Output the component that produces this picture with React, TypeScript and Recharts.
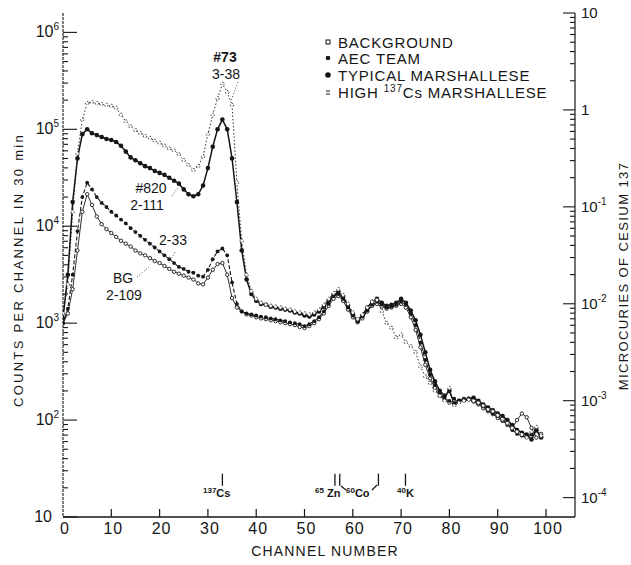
import React from 'react';
import { LineChart, Line, XAxis, YAxis, ReferenceLine } from 'recharts';

const INK = '#161616';
const FONT = '"Liberation Sans", Arial, sans-serif';

// channel numbers 0..99
const channels = Array.from({ length: 100 }, (_, i) => i);

// counts per channel in 30 min
const highCs = [
  1260, 2510, 14100, 56200, 126000, 186000, 191000, 186000, 182000, 178000,
  174000, 166000, 141000, 120000, 107000, 97700, 91200, 85100, 81300, 75900,
  72400, 67600, 63100, 60300, 55000, 47900, 42700, 38000, 41700, 52500,
  89100, 141000, 209000, 295000, 240000, 178000, 28200, 7080, 3160, 2140,
  1780, 1620, 1550, 1510, 1480, 1450, 1410, 1380, 1320, 1290,
  1260, 1230, 1290, 1380, 1550, 1780, 2040, 2240, 1950, 1580,
  1290, 1100, 1230, 1450, 1660, 1740, 1320, 1000, 891, 708,
  759, 631, 575, 501, 355, 282, 240, 200, 178, 158,
  214, 141, 151, 158, 162, 158, 151, 141, 129, 123,
  112, 102, 93, 83, 76, 71, 66, 76, 85, 69,
];

const typical = [
  1120, 3160, 17800, 50100, 89100, 100000, 91200, 87100, 83200, 79400,
  77600, 74100, 67600, 58900, 51300, 47900, 44700, 41700, 39800, 37200,
  35500, 33900, 31600, 29500, 27500, 24000, 21400, 20400, 21400, 26300,
  39800, 66100, 100000, 126000, 100000, 50100, 17800, 5620, 2820, 2000,
  1700, 1580, 1550, 1480, 1450, 1410, 1380, 1350, 1290, 1260,
  1200, 1170, 1230, 1320, 1480, 1700, 1950, 2090, 1860, 1510,
  1230, 1050, 1200, 1450, 1660, 1780, 1620, 1510, 1550, 1620,
  1780, 1620, 1350, 1070, 759, 501, 331, 251, 200, 178,
  200, 148, 158, 162, 166, 170, 158, 145, 135, 126,
  117, 110, 100, 89, 79, 74, 71, 63, 79, 66,
];

const aecTeam = [
  1000, 1410, 3160, 8910, 20000, 28200, 24000, 20000, 17400, 15800,
  14100, 12900, 11700, 10700, 9550, 8710, 7940, 7240, 6610, 6030,
  5500, 5010, 4570, 4170, 3800, 3630, 3390, 3310, 3090, 3020,
  3550, 4570, 5500, 5890, 5010, 2630, 1580, 1320, 1260, 1230,
  1200, 1170, 1150, 1120, 1100, 1070, 1050, 1020, 1000, 977,
  933, 977, 1050, 1150, 1320, 1580, 1910, 2000, 1780, 1450,
  1200, 1050, 1170, 1350, 1550, 1660, 1550, 1450, 1480, 1550,
  1660, 1550, 1260, 955, 631, 417, 295, 229, 186, 166,
  158, 166, 155, 158, 166, 158, 148, 138, 126, 117,
  110, 100, 91, 79, 72, 69, 66, 71, 78, 68,
];

const background = [
  1000, 1260, 2240, 5620, 14100, 21400, 16600, 12600, 10500, 9330,
  8510, 7760, 7080, 6610, 6170, 5620, 5250, 5010, 4680, 4370,
  4170, 3890, 3630, 3390, 3240, 3090, 2950, 2820, 2570, 2510,
  2950, 3550, 4070, 4170, 3160, 1820, 1450, 1320, 1230, 1200,
  1150, 1120, 1100, 1070, 1050, 1020, 1000, 977, 955, 912,
  891, 933, 1000, 1100, 1260, 1510, 1780, 1910, 1700, 1380,
  1150, 1020, 1120, 1320, 1510, 1580, 1480, 1410, 1450, 1510,
  1580, 1450, 1150, 851, 562, 372, 269, 214, 178, 162,
  151, 158, 158, 166, 162, 155, 145, 132, 123, 115,
  105, 98, 89, 83, 100, 117, 107, 83, 66, 72,
];

const channelTicks = [0, 10, 20, 30, 40, 50, 60, 70, 80, 90, 100];
const countDecades = [10, 100, 1000, 10000, 100000, 1000000];
const curieDecades = [0.0001, 0.001, 0.01, 0.1, 1, 10];
const minorSteps = [2, 3, 4, 5, 6, 7, 8, 9];
const isotopeChannels = [33, 56.3, 57.3, 65.3, 70.9];

const withMinors = (decades: number[]) =>
  decades.flatMap((d, i) =>
    i < decades.length - 1 ? [d, ...minorSteps.map((m) => d * m)] : [d]
  );
const countTicks = withMinors(countDecades);
const curieTicks = withMinors(curieDecades);

const data = channels.map((ch, i) => ({
  ch,
  high: highCs[i],
  typical: typical[i],
  aec: aecTeam[i],
  bg: background[i],
}));

const exponentOf = (v: number) => {
  const e = Math.log10(v);
  return Math.abs(e - Math.round(e)) < 1e-6 ? Math.round(e) : null;
};

const LeftTick = (props: any) => {
  const { x, y, payload } = props;
  const e = exponentOf(payload.value);
  return (
    <g>
      <line x1={x} x2={x + (e !== null ? 14 : 5)} y1={y} y2={y} stroke={INK} strokeWidth={1.1} />
      {e !== null && (
        <text x={e === 1 ? 52 : 59} y={y + 5} textAnchor="end" fontSize={16} fill={INK} fontFamily={FONT}>
          10
          {e !== 1 && (
            <tspan fontSize={10} dy={-7}>
              {e}
            </tspan>
          )}
        </text>
      )}
    </g>
  );
};

const RightTick = (props: any) => {
  const { x, y, payload } = props;
  const e = exponentOf(payload.value);
  return (
    <g>
      <line x1={x - (e !== null ? 12 : 5)} x2={x} y1={y} y2={y} stroke={INK} strokeWidth={1.1} />
      {e !== null && (
        <text x={x + 6} y={y + 5} fontSize={15} fill={INK} fontFamily={FONT}>
          {e === 0 ? '1' : '10'}
          {e < 0 && (
            <tspan fontSize={10} dy={-7}>
              {e}
            </tspan>
          )}
        </text>
      )}
    </g>
  );
};

const BottomTick = (props: any) => {
  const { x, y, payload } = props;
  return (
    <g>
      {payload.value > 0 && <line x1={x} x2={x} y1={y} y2={y - 8} stroke={INK} strokeWidth={1.2} />}
      <text x={x + 2} y={y + 17} textAnchor="middle" fontSize={16} fill={INK} fontFamily={FONT} letterSpacing={1}>
        {payload.value}
      </text>
    </g>
  );
};

const TopTick = (props: any) => {
  const { x, y, payload } = props;
  if (payload.value === 0) return <g />;
  return <line x1={x} x2={x} y1={y} y2={y + 10} stroke={INK} strokeWidth={1.2} />;
};

const Overlay = () => (
  <svg
    width={631}
    height={565}
    style={{ position: 'absolute', left: 0, top: 0, pointerEvents: 'none' }}
    fontFamily={FONT}
    fill={INK}
  >
    {/* legend */}
    <rect x={326} y={40} width={4} height={4} fill="#fff" stroke={INK} strokeWidth={1} />
    <text x={338} y={48} fontSize={15} letterSpacing={0.8}>BACKGROUND</text>
    <circle cx={328} cy={58} r={2.3} fill={INK} />
    <text x={338} y={64} fontSize={15} letterSpacing={0.8}>AEC TEAM</text>
    <circle cx={328} cy={75} r={2.8} fill={INK} />
    <text x={338} y={81} fontSize={15} letterSpacing={0.8}>TYPICAL MARSHALLESE</text>
    <line x1={326} x2={330} y1={91} y2={91} stroke={INK} strokeWidth={1} />
    <line x1={326} x2={330} y1={94} y2={94} stroke={INK} strokeWidth={1} />
    <text x={338} y={98} fontSize={15} letterSpacing={0.8}>
      HIGH <tspan fontSize={10} dy={-6}>137</tspan>
      <tspan dy={6}>Cs MARSHALLESE</tspan>
    </text>

    {/* curve annotations */}
    <text x={225} y={62} fontSize={14} fontWeight="bold" textAnchor="middle">#73</text>
    <text x={226} y={79} fontSize={14} textAnchor="middle">3-38</text>
    <line x1={238} y1={82} x2={231} y2={101} stroke={INK} strokeWidth={0.8} strokeDasharray="1 2" />
    <text x={151} y={193} fontSize={14} textAnchor="middle">#820</text>
    <text x={147} y={210} fontSize={14} textAnchor="middle">2-111</text>
    <line x1={172} y1={196} x2={179} y2={186} stroke={INK} strokeWidth={0.8} strokeDasharray="1 2" />
    <text x={173} y={245} fontSize={14} textAnchor="middle">2-33</text>
    <line x1={175} y1={252} x2={169} y2={263} stroke={INK} strokeWidth={0.8} strokeDasharray="1 2" />
    <text x={123} y={283} fontSize={14} textAnchor="middle">BG</text>
    <text x={124} y={300} fontSize={14} textAnchor="middle">2-109</text>
    <line x1={137} y1={277} x2={149} y2={267} stroke={INK} strokeWidth={0.8} strokeDasharray="1 2" />

    {/* isotope labels */}
    <text x={203} y={497} fontSize={11} fontWeight="bold">
      <tspan fontSize={8} dy={-4}>137</tspan>
      <tspan dy={4}>Cs</tspan>
    </text>
    <text x={315} y={497} fontSize={11} fontWeight="bold">
      <tspan fontSize={8} dy={-4}>65</tspan>
      <tspan dy={4}> Zn</tspan>
    </text>
    <line x1={341} y1={486} x2={346} y2={490} stroke={INK} strokeWidth={1.2} />
    <text x={346} y={497} fontSize={11} fontWeight="bold">
      <tspan fontSize={8} dy={-4}>60</tspan>
      <tspan dy={4}>Co</tspan>
    </text>
    <line x1={372} y1={490} x2={377} y2={485} stroke={INK} strokeWidth={1.2} />
    <text x={397} y={497} fontSize={11} fontWeight="bold">
      <tspan fontSize={8} dy={-4}>40</tspan>
      <tspan dy={4}>K</tspan>
    </text>

    {/* axis titles */}
    <text
      transform="translate(23,270) rotate(-90)"
      textAnchor="middle"
      fontSize={13}
      letterSpacing={2.3}
    >
      COUNTS PER CHANNEL IN 30 min
    </text>
    <text
      transform="translate(628,276) rotate(-90)"
      textAnchor="middle"
      fontSize={13}
      letterSpacing={1.4}
    >
      MICROCURIES OF CESIUM 137
    </text>
    <text x={325} y={556} textAnchor="middle" fontSize={14} letterSpacing={1.2}>
      CHANNEL NUMBER
    </text>
  </svg>
);

export default function App() {
  return (
    <div style={{ position: 'absolute', left: 0, top: 0, width: 631, height: 565, background: '#fff' }}>
      <LineChart width={631} height={565} data={data} margin={{ top: 13, right: 0, bottom: 0, left: 0 }}>
        <XAxis
          xAxisId="bottom"
          dataKey="ch"
          type="number"
          domain={[0, 106]}
          ticks={channelTicks}
          allowDataOverflow
          height={48}
          tickSize={0}
          tickMargin={0}
          tickLine={false}
          tick={<BottomTick />}
          axisLine={{ stroke: INK, strokeWidth: 1.3 }}
        />
        <XAxis
          xAxisId="top"
          orientation="top"
          type="number"
          domain={[0, 106]}
          ticks={channelTicks}
          allowDataOverflow
          height={0}
          tickSize={0}
          tickMargin={0}
          tickLine={false}
          tick={<TopTick />}
          axisLine={{ stroke: INK, strokeWidth: 1.3 }}
        />
        <YAxis
          yAxisId="left"
          scale="log"
          type="number"
          domain={[10, 1584893]}
          ticks={countTicks}
          allowDataOverflow
          width={63}
          tickSize={0}
          tickMargin={0}
          tickLine={false}
          interval={0}
          tick={<LeftTick />}
          axisLine={{ stroke: INK, strokeWidth: 1.1, strokeDasharray: '3 1' }}
        />
        <YAxis
          yAxisId="right"
          orientation="right"
          scale="log"
          type="number"
          domain={[0.0000631, 10]}
          ticks={curieTicks}
          allowDataOverflow
          width={56}
          tickSize={0}
          tickMargin={0}
          tickLine={false}
          interval={0}
          tick={<RightTick />}
          axisLine={{ stroke: INK, strokeWidth: 1.2 }}
        />
        {isotopeChannels.map((c) => (
          <ReferenceLine
            key={c}
            xAxisId="bottom"
            yAxisId="left"
            segment={[{ x: c, y: 21 }, { x: c, y: 28 }]}
            stroke={INK}
            strokeWidth={1.3}
          />
        ))}
        <Line
          xAxisId="bottom"
          yAxisId="left"
          type="linear"
          dataKey="bg"
          stroke={INK}
          strokeWidth={0.9}
          dot={{ r: 1.7, fill: '#fff', stroke: INK, strokeWidth: 0.9 }}
          isAnimationActive={false}
        />
        <Line
          xAxisId="bottom"
          yAxisId="left"
          type="linear"
          dataKey="aec"
          stroke={INK}
          strokeWidth={1.1}
          strokeDasharray="4 2"
          dot={{ r: 1.9, fill: INK, stroke: 'none' }}
          isAnimationActive={false}
        />
        <Line
          xAxisId="bottom"
          yAxisId="left"
          type="linear"
          dataKey="typical"
          stroke={INK}
          strokeWidth={1.5}
          dot={{ r: 2.3, fill: INK, stroke: 'none' }}
          isAnimationActive={false}
        />
        <Line
          xAxisId="bottom"
          yAxisId="left"
          type="linear"
          dataKey="high"
          stroke={INK}
          strokeWidth={0.9}
          strokeDasharray="1.5 2"
          dot={{ r: 1.7, fill: '#fff', stroke: INK, strokeWidth: 0.9 }}
          isAnimationActive={false}
        />
      </LineChart>
      <Overlay />
    </div>
  );
}
